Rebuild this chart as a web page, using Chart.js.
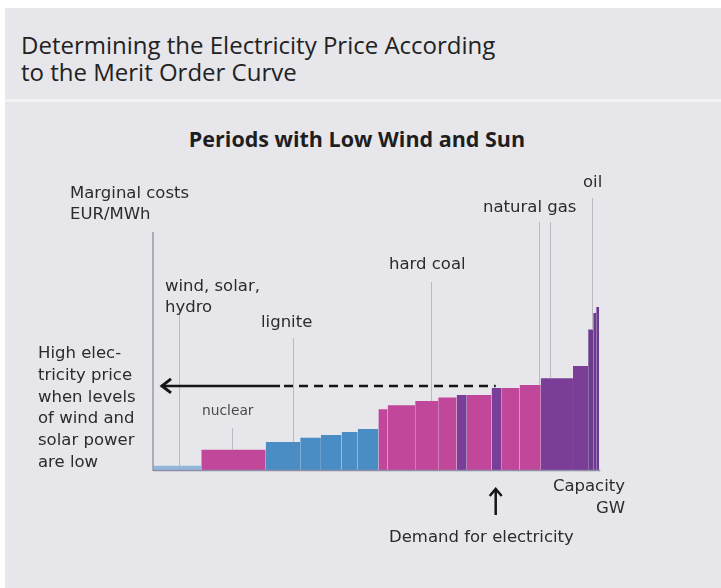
<!DOCTYPE html>
<html>
<head>
<meta charset="utf-8">
<script src="https://cdn.jsdelivr.net/npm/chart.js@4.4.1/dist/chart.umd.min.js"></script>
<style>
  html, body { margin: 0; padding: 0; background: #fff; }
  body { width: 721px; height: 588px; position: relative; overflow: hidden; font-family: 'Open Sans', sans-serif; }
  .card { position: absolute; left: 5px; top: 8px; right: 0; bottom: 0; background: #e6e6eb; }
  .sep { position: absolute; left: 5px; right: 0; top: 99px; height: 3px; background: #f2f2f5; }
  h1 { position: absolute; left: 21px; top: 31px; margin: 0; font-size: 24px; font-weight: 400; line-height: 27px; color: #222; }
  h2 { position: absolute; left: 0; width: 714px; top: 124px; margin: 0; text-align: center; font-size: 21.5px; font-weight: 700; color: #1e1e1e; }
  canvas { position: absolute; left: 0; top: 0; }
</style>
</head>
<body>
<div class="card"></div>
<div class="sep"></div>
<h1>Determining the Electricity Price According<br>to the Merit Order Curve</h1>
<h2>Periods with Low Wind and Sun</h2>
<canvas id="chart-merit" width="721" height="588"></canvas>
<script>
// ─── DATA ─────────────────────────────────────────────────────
// power plant blocks in merit order (cheapest first)
const plantFuel   = ["res", "nuclear", "lignite", "lignite", "lignite", "lignite", "lignite",
                     "coal", "coal", "coal", "coal", "gas", "coal", "gas", "coal", "coal",
                     "gas", "gas", "oil", "oil", "oil"];
const capacityGW  = [10.5, 14, 7.5, 4.5, 4.5, 3.5, 4.5,
                     2, 6, 5, 4, 2.2, 5.4, 2.2, 3.9, 4.6,
                     7, 3.3, 1.1, 0.65, 0.65];
const costEUR     = [3.5, 17, 23.5, 27, 29.5, 32, 34.5,
                     51, 54.5, 58, 61, 63, 63, 69, 69, 71.5,
                     77, 87.5, 118, 132, 137];
const demandGW    = 74.5;

// fuel labels with the capacity (GW) their pointer line sits on
const fuelLabels  = [["wind, solar,", "hydro"], ["nuclear"], ["lignite"], ["hard coal"], ["natural gas"], ["oil"]];
const pointerGW   = [[5.7], [17.2], [30.4], [60.4], [83.9, 86.3], [95.4]];

const X_MAX = 100, Y_MAX = 200;

// ─── STYLE ────────────────────────────────────────────────────
const FUEL_COLOR = {
  res:     "#93b7dc",
  nuclear: "#c1479b",
  lignite: "#4a8dc4",
  coal:    "#c1479b",
  gas:     "#7a3e98",
  oil:     "#6c3a8f"
};
const textCol = "#2b2b2b";
const font = (s) => `${s}px 'DejaVu Sans', sans-serif`;

// label anchor points in pixels: x, baseline of first line, pointer top y
const LABEL_POS = [
  { x: 165, y: 291, top: 314, size: 16.5 },
  { x: 202, y: 415, top: 428, size: 13.8, color: "#4a4a4a" },
  { x: 261, y: 327, top: 338, size: 16.5 },
  { x: 389, y: 269, top: 282, size: 16.5 },
  { x: 483, y: 212, top: 222, size: 16.5 },
  { x: 583, y: 187, top: 198, size: 16.5 }
];

// ─── BUILD DATASETS ───────────────────────────────────────────
let start = 0;
const datasets = capacityGW.map((cap, i) => {
  const x0 = start, x1 = start + cap;
  start = x1;
  return {
    data: [{ x: x0, y: costEUR[i] }, { x: x1, y: costEUR[i] }],
    backgroundColor: FUEL_COLOR[plantFuel[i]],
    borderColor: "transparent",
    borderWidth: 0,
    pointRadius: 0,
    fill: "origin",
    tension: 0
  };
});

const costAt = (gw) => {
  let acc = 0;
  for (let i = 0; i < capacityGW.length; i++) {
    acc += capacityGW[i];
    if (gw <= acc) return costEUR[i];
  }
  return costEUR[costEUR.length - 1];
};

// ─── ANNOTATIONS ──────────────────────────────────────────────
const annotations = {
  id: "meritAnnotations",
  afterDatasetsDraw(chart) {
    const { ctx, scales: { x, y } } = chart;
    const x0 = x.getPixelForValue(0), yb = y.getPixelForValue(0);
    ctx.save();

    // axes
    ctx.strokeStyle = "#9a9aa2";
    ctx.lineWidth = 1.5;
    ctx.beginPath();
    ctx.moveTo(x0, chart.chartArea.top);
    ctx.lineTo(x0, yb + 1);
    ctx.stroke();
    ctx.strokeStyle = "#8e8ea6";
    ctx.beginPath();
    ctx.moveTo(x0, yb + 0.5);
    ctx.lineTo(x.getPixelForValue(start) + 1, yb + 0.5);
    ctx.stroke();

    // pointer lines
    ctx.strokeStyle = "#b9b9c0";
    ctx.lineWidth = 1;
    pointerGW.forEach((list, i) => {
      list.forEach(gw => {
        const px = Math.round(x.getPixelForValue(gw)) + 0.5;
        ctx.beginPath();
        ctx.moveTo(px, LABEL_POS[i].top);
        ctx.lineTo(px, y.getPixelForValue(costAt(gw)));
        ctx.stroke();
      });
    });

    // fuel labels
    ctx.textBaseline = "alphabetic";
    fuelLabels.forEach((lines, i) => {
      const p = LABEL_POS[i];
      ctx.font = font(p.size);
      ctx.fillStyle = p.color || textCol;
      lines.forEach((t, k) => ctx.fillText(t, p.x, p.y + k * 21));
    });

    // axis titles
    ctx.font = font(16.5);
    ctx.fillStyle = textCol;
    ctx.fillText("Marginal costs", 70, 198);
    ctx.fillText("EUR/MWh", 70, 219);
    ctx.textAlign = "right";
    ctx.fillText("Capacity", 625, 491);
    ctx.fillText("GW", 625, 513);
    ctx.textAlign = "left";

    // price line from demand back to the axis
    const dx = x.getPixelForValue(demandGW);
    const py = y.getPixelForValue(costAt(demandGW)) - 2;
    const solidEnd = 280;
    ctx.strokeStyle = "#151515";
    ctx.lineWidth = 2.5;
    ctx.beginPath();
    ctx.moveTo(x0 + 8, py);
    ctx.lineTo(solidEnd, py);
    ctx.stroke();
    ctx.setLineDash([9, 6]);
    ctx.beginPath();
    ctx.moveTo(solidEnd + 4, py);
    ctx.lineTo(dx, py);
    ctx.stroke();
    ctx.setLineDash([]);
    ctx.lineWidth = 3;
    ctx.beginPath();
    ctx.moveTo(x0 + 18, py - 7);
    ctx.lineTo(x0 + 9, py);
    ctx.lineTo(x0 + 18, py + 7);
    ctx.stroke();

    const note = ["High elec-", "tricity price", "when levels", "of wind and", "solar power", "are low"];
    note.forEach((t, k) => ctx.fillText(t, 38, 358 + k * 21.8));

    // demand arrow
    ctx.lineWidth = 2.5;
    ctx.beginPath();
    ctx.moveTo(dx, 515);
    ctx.lineTo(dx, 489);
    ctx.stroke();
    ctx.beginPath();
    ctx.moveTo(dx - 6, 496);
    ctx.lineTo(dx, 489);
    ctx.lineTo(dx + 6, 496);
    ctx.stroke();
    ctx.fillText("Demand for electricity", 389, 542);

    ctx.restore();
  }
};

new Chart(document.getElementById("chart-merit"), {
  type: "line",
  data: { datasets },
  options: {
    responsive: false,
    animation: false,
    layout: { padding: { left: 153, right: 108, top: 232, bottom: 118 } },
    plugins: { legend: { display: false }, tooltip: { enabled: false } },
    scales: {
      x: { type: "linear", min: 0, max: X_MAX, display: false },
      y: { type: "linear", min: 0, max: Y_MAX, display: false }
    }
  },
  plugins: [annotations]
});
</script>
</body>
</html>
